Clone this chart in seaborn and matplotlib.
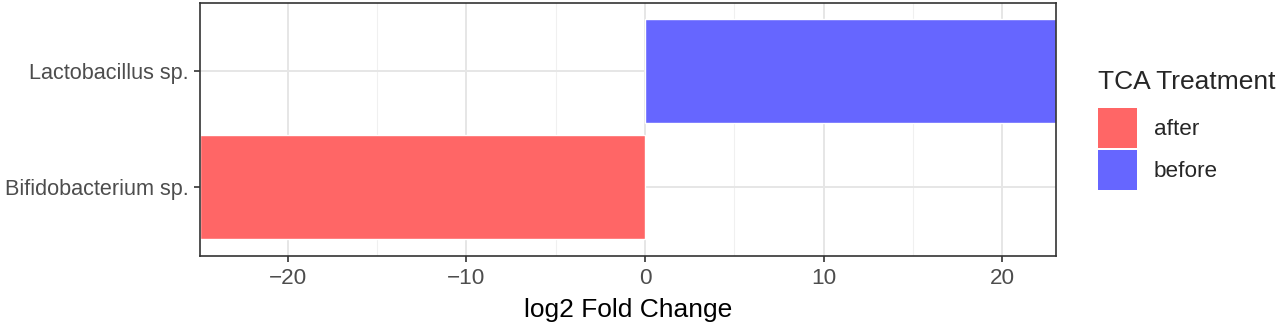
import matplotlib
matplotlib.use("Agg")
import matplotlib.pyplot as plt
import seaborn as sns
import pandas as pd
from matplotlib.patches import Patch

categories = ["Lactobacillus sp.", "Bifidobacterium sp."]
log2fc = [23.0, -24.9]
treatment = ["before", "after"]
legend_order = ["after", "before"]
colors = {"after": "#FF6666", "before": "#6666FF"}
xticks = [-20, -10, 0, 10, 20]

df = pd.DataFrame({"taxon": categories, "lfc": log2fc, "treatment": treatment})

sns.set_theme(style="white")
plt.rcParams["font.family"] = ["Liberation Sans", "DejaVu Sans"]

fig = plt.figure(figsize=(12.8, 3.24), dpi=100)
ax = fig.add_axes([200/1280, (324-256)/324, (1056-200)/1280, (256-3)/324])

# grid
ax.set_axisbelow(True)
for x in [-25, -15, -5, 5, 15]:
    ax.axvline(x, color="#F0F0F0", lw=0.8, zorder=0)
for x in xticks:
    ax.axvline(x, color="#E6E6E6", lw=1.4, zorder=0)
for y in [0, 1]:
    ax.axhline(y, color="#E6E6E6", lw=1.4, zorder=0)

sns.barplot(data=df, x="lfc", y="taxon", hue="treatment", order=categories,
            hue_order=legend_order, palette=colors, dodge=False, width=0.9,
            saturation=1, orient="h", ax=ax, legend=False, zorder=2)

ax.set_xlim(-24.9, 23.0)
ax.set_ylim(1.595, -0.586)
ax.set_xticks(xticks)
ax.set_xticklabels(["\u221220", "\u221210", "0", "10", "20"])
ax.set_xlabel("log2 Fold Change", fontsize=19, color="black", labelpad=6)
ax.set_ylabel("")
ax.tick_params(axis="x", labelsize=16.2, pad=5)
ax.tick_params(axis="y", labelsize=15.6, pad=4)
ax.tick_params(axis="both", labelcolor="#4D4D4D", color="#333333",
               length=4, width=1.2, bottom=True, left=True)
for s in ax.spines.values():
    s.set_color("#333333")
    s.set_linewidth(1.2)
    s.set_visible(True)

handles = [Patch(facecolor=colors[t], edgecolor="none", label=t) for t in legend_order]
leg = fig.legend(handles=handles, title="TCA Treatment", loc="upper left",
                 bbox_to_anchor=(1082/1280, 1 - 54/324), frameon=False,
                 fontsize=16.2, title_fontsize=19, handlelength=1.75, handleheight=2.35,
                 handletextpad=0.75, labelspacing=0.12, alignment="left",
                 borderaxespad=0.3)
leg._legend_box.sep = 10

fig.savefig("out.png", dpi=100)
